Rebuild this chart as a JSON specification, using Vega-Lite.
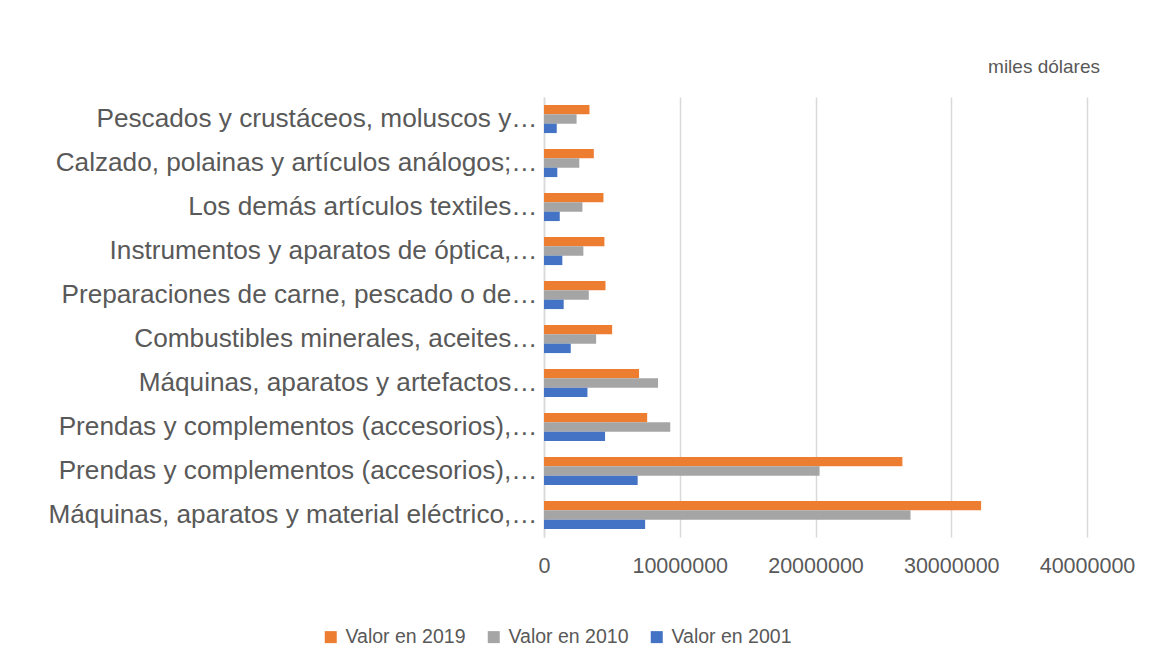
{
  "$schema": "https://vega.github.io/schema/vega-lite/v6.json",
  "width": 543,
  "height": 440,
  "autosize": {"type": "none"},
  "padding": {"left": 544, "top": 97, "right": 64, "bottom": 131},
  "background": "white",
  "config": {
    "font": "Liberation Sans",
    "view": {"stroke": null}
  },
  "title": {
    "text": "miles dólares",
    "anchor": "end",
    "frame": "group",
    "fontSize": 19,
    "fontWeight": "normal",
    "color": "#595959",
    "offset": 20,
    "dx": 13
  },
  "data": {
    "values": [
      {"producto": "Pescados y crustáceos, moluscos y…|03", "serie": "Valor en 2019", "valor": 3350000},
      {"producto": "Pescados y crustáceos, moluscos y…|03", "serie": "Valor en 2010", "valor": 2400000},
      {"producto": "Pescados y crustáceos, moluscos y…|03", "serie": "Valor en 2001", "valor": 940000},
      {"producto": "Calzado, polainas y artículos análogos;…|64", "serie": "Valor en 2019", "valor": 3670000},
      {"producto": "Calzado, polainas y artículos análogos;…|64", "serie": "Valor en 2010", "valor": 2600000},
      {"producto": "Calzado, polainas y artículos análogos;…|64", "serie": "Valor en 2001", "valor": 980000},
      {"producto": "Los demás artículos textiles…|63", "serie": "Valor en 2019", "valor": 4380000},
      {"producto": "Los demás artículos textiles…|63", "serie": "Valor en 2010", "valor": 2830000},
      {"producto": "Los demás artículos textiles…|63", "serie": "Valor en 2001", "valor": 1160000},
      {"producto": "Instrumentos y aparatos de óptica,…|90", "serie": "Valor en 2019", "valor": 4450000},
      {"producto": "Instrumentos y aparatos de óptica,…|90", "serie": "Valor en 2010", "valor": 2900000},
      {"producto": "Instrumentos y aparatos de óptica,…|90", "serie": "Valor en 2001", "valor": 1350000},
      {"producto": "Preparaciones de carne, pescado o de…|16", "serie": "Valor en 2019", "valor": 4530000},
      {"producto": "Preparaciones de carne, pescado o de…|16", "serie": "Valor en 2010", "valor": 3300000},
      {"producto": "Preparaciones de carne, pescado o de…|16", "serie": "Valor en 2001", "valor": 1450000},
      {"producto": "Combustibles minerales, aceites…|27", "serie": "Valor en 2019", "valor": 5020000},
      {"producto": "Combustibles minerales, aceites…|27", "serie": "Valor en 2010", "valor": 3840000},
      {"producto": "Combustibles minerales, aceites…|27", "serie": "Valor en 2001", "valor": 1970000},
      {"producto": "Máquinas, aparatos y artefactos…|84", "serie": "Valor en 2019", "valor": 7000000},
      {"producto": "Máquinas, aparatos y artefactos…|84", "serie": "Valor en 2010", "valor": 8400000},
      {"producto": "Máquinas, aparatos y artefactos…|84", "serie": "Valor en 2001", "valor": 3200000},
      {"producto": "Prendas y complementos (accesorios),…|62", "serie": "Valor en 2019", "valor": 7600000},
      {"producto": "Prendas y complementos (accesorios),…|62", "serie": "Valor en 2010", "valor": 9300000},
      {"producto": "Prendas y complementos (accesorios),…|62", "serie": "Valor en 2001", "valor": 4500000},
      {"producto": "Prendas y complementos (accesorios),…|61", "serie": "Valor en 2019", "valor": 26400000},
      {"producto": "Prendas y complementos (accesorios),…|61", "serie": "Valor en 2010", "valor": 20300000},
      {"producto": "Prendas y complementos (accesorios),…|61", "serie": "Valor en 2001", "valor": 6900000},
      {"producto": "Máquinas, aparatos y material eléctrico,…|85", "serie": "Valor en 2019", "valor": 32200000},
      {"producto": "Máquinas, aparatos y material eléctrico,…|85", "serie": "Valor en 2010", "valor": 27000000},
      {"producto": "Máquinas, aparatos y material eléctrico,…|85", "serie": "Valor en 2001", "valor": 7450000}
    ]
  },
  "mark": {"type": "bar"},
  "encoding": {
    "y": {
      "field": "producto",
      "type": "nominal",
      "sort": null,
      "scale": {"paddingInner": 0.36, "paddingOuter": 0.18},
      "axis": {
        "title": null,
        "labelExpr": "split(datum.label, '|')[0]",
        "labelFontSize": 26.2,
        "labelColor": "#595959",
        "labelPadding": 7,
        "labelLimit": 600,
        "ticks": false,
        "domain": true,
        "domainColor": "#D9D9D9",
        "domainWidth": 1.5,
        "grid": false
      }
    },
    "yOffset": {
      "field": "serie",
      "type": "nominal",
      "sort": ["Valor en 2019", "Valor en 2010", "Valor en 2001"],
      "scale": {"paddingInner": 0, "paddingOuter": 0}
    },
    "x": {
      "field": "valor",
      "type": "quantitative",
      "scale": {"domain": [0, 40000000], "nice": false},
      "axis": {
        "title": null,
        "values": [0, 10000000, 20000000, 30000000, 40000000],
        "format": "d",
        "labelFontSize": 21.5,
        "labelColor": "#595959",
        "labelPadding": 18,
        "labelOverlap": false,
        "labelFlush": false,
        "ticks": false,
        "domain": false,
        "grid": true,
        "gridColor": "#D9D9D9",
        "gridWidth": 1.5
      }
    },
    "color": {
      "field": "serie",
      "type": "nominal",
      "scale": {
        "domain": ["Valor en 2019", "Valor en 2010", "Valor en 2001"],
        "range": ["#ED7D31", "#A5A5A5", "#4472C4"]
      },
      "legend": {
        "title": null,
        "orient": "none",
        "direction": "horizontal",
        "legendX": -223,
        "legendY": 530,
        "symbolType": "square",
        "symbolSize": 144,
        "symbolStrokeWidth": 0,
        "labelFontSize": 19.5,
        "labelColor": "#595959",
        "labelOffset": 5,
        "columnPadding": 18
      }
    }
  }
}
